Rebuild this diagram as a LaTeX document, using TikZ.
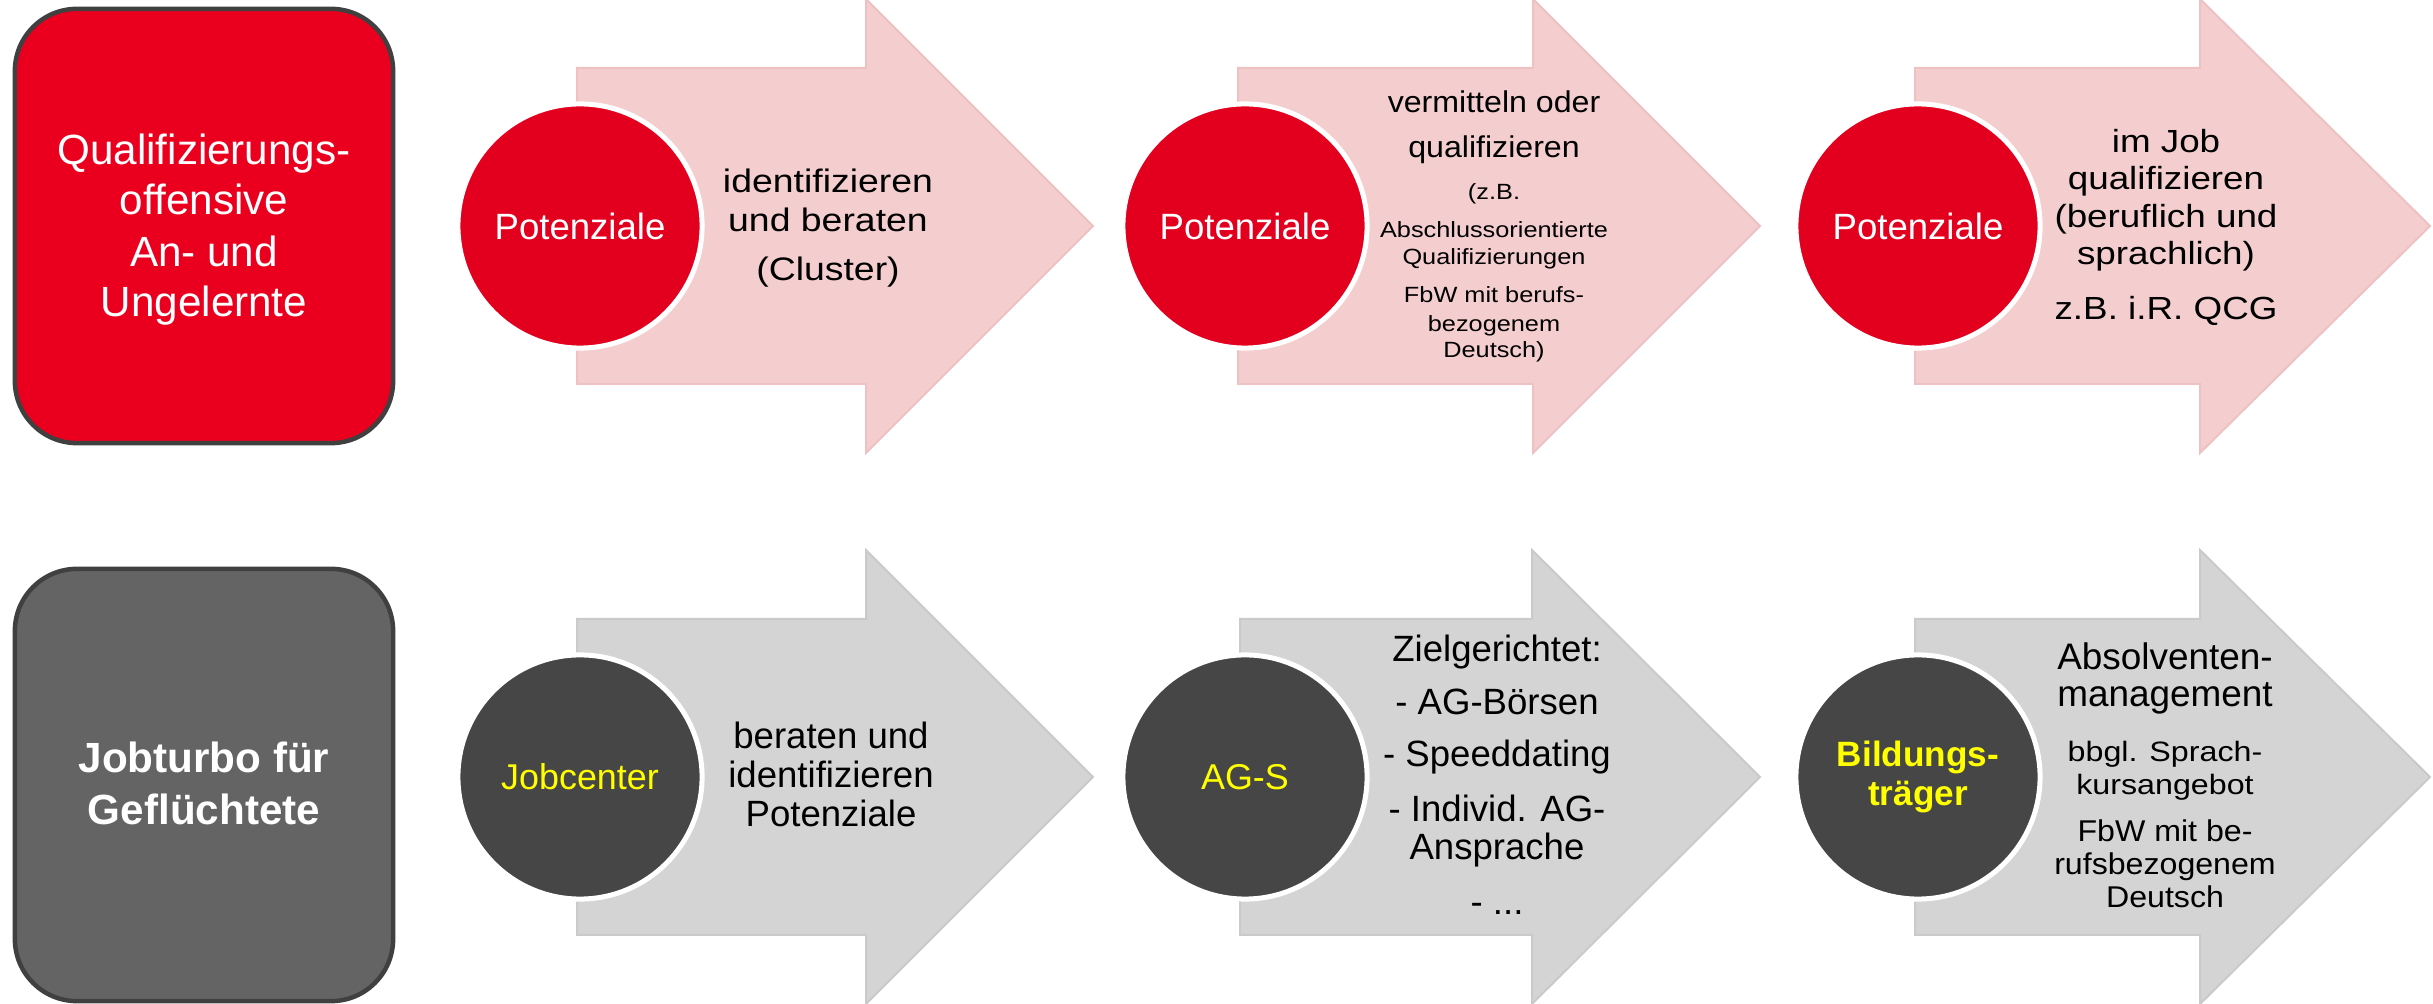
\documentclass[tikz,border=0pt]{standalone}
\usepackage{fontspec}
\setmainfont{Liberation Sans}
\newfontfamily\fN{Liberation Sans}
\newfontfamily\fM[FakeStretch=1.07]{Liberation Sans}
\newfontfamily\fW[FakeStretch=1.15]{Liberation Sans}
\newcommand\pxsize[2]{\fontsize{#1}{#2}\selectfont}
\definecolor{boxred}{RGB}{234,0,30}
\definecolor{circred}{RGB}{226,0,30}
\definecolor{pinkarrow}{RGB}{244,206,207}
\definecolor{pinkedge}{RGB}{238,193,195}
\definecolor{grayarrow}{RGB}{212,212,212}
\definecolor{grayedge}{RGB}{202,202,202}
\definecolor{boxgray}{RGB}{100,100,100}
\definecolor{boxedge}{RGB}{64,64,64}
\definecolor{circgray}{RGB}{70,70,70}
\definecolor{ylw}{RGB}{255,255,0}
\newcommand\flowarrow[5]{\path[#5] (#1,#4-158) -- (#2,#4-158) -- (#2,#4-227) -- (#3,#4) -- (#2,#4+227) -- (#2,#4+158) -- (#1,#4+158) -- cycle;}
\begin{document}
\begin{tikzpicture}[x=0.01cm,y=-0.01cm,
  leftbox/.style={rectangle, rounded corners=0.62cm, draw=boxedge, line width=0.045cm, minimum width=3.78cm, inner sep=0},
  pinkar/.style={fill=pinkarrow, draw=pinkedge, line width=0.02cm},
  grayar/.style={fill=grayarrow, draw=grayedge, line width=0.02cm},
  disc/.style={circle, minimum size=2.44cm, inner sep=0, draw=white, line width=0.05cm, align=center},
  lbl/.style={anchor=base, inner sep=0}]
\useasboundingbox (0,0) rectangle (2433,1004);
% left boxes
\node[leftbox, fill=boxred, minimum height=4.34cm] (qbox) at (204,226) {};
\node[leftbox, fill=boxgray, minimum height=4.32cm] (jbox) at (204,785) {};
\foreach \n/\yy/\t in {1/165/Qualifizierungs-, 2/215/offensive, 3/267/An- und, 4/317/Ungelernte}
  \node[lbl, font=\fN\pxsize{12pt}{14pt}, text=white] (qt\n) at (204,\yy) {\t};
\foreach \n/\yy/\t in {1/773/Jobturbo für, 2/825/Geflüchtete}
  \node[lbl, font=\fN\bfseries\pxsize{12pt}{14pt}, text=white] (jt\n) at (204,\yy) {\t};
% arrows
\flowarrow{577}{866}{1093}{226}{pinkar}
\flowarrow{1238}{1533}{1760}{226}{pinkar}
\flowarrow{1915}{2200}{2430}{226}{pinkar}
\flowarrow{577}{866}{1093}{777}{grayar}
\flowarrow{1240}{1532}{1760}{777}{grayar}
\flowarrow{1915}{2200}{2430}{777}{grayar}
% circles
\foreach \n/\xx in {1/580, 2/1245, 3/1918}
  \node[disc, fill=circred, text=white, font=\fN\pxsize{10.4pt}{12pt}] (pc\n) at (\xx,226) {Potenziale};
\node[disc, fill=circgray, text=ylw, font=\fN\pxsize{10.2pt}{12pt}] (jc) at (580,777) {Jobcenter};
\node[disc, fill=circgray, text=ylw, font=\fN\pxsize{10.2pt}{12pt}] (ag) at (1245,777) {AG-S};
\node[disc, fill=circgray, text=ylw, font=\fN\bfseries\pxsize{10pt}{11.1pt}] (bt) at (1918,777) {Bildungs-\\träger};
% top arrow texts
\foreach \n/\yy/\t in {1/193/identifizieren, 2/232/und beraten, 3/281/{(Cluster)}}
  \node[lbl, font=\fW\pxsize{9.25pt}{11pt}] (ta\n) at (828,\yy) {\t};
\foreach \n/\yy/\t in {1/113/vermitteln oder, 2/158/qualifizieren}
  \node[lbl, font=\fM\pxsize{8.54pt}{10pt}] (tb\n) at (1494,\yy) {\t};
\foreach \n/\yy/\t in {3/200/{(z.B.}, 4/238/Abschlussorientierte, 5/265/Qualifizierungen, 6/303/FbW mit berufs-, 7/332/bezogenem, 8/358/{Deutsch)}}
  \node[lbl, font=\fW\pxsize{6.26pt}{7.5pt}] (tb\n) at (1494,\yy) {\t};
\foreach \n/\yy/\t in {1/153/im Job, 2/190/qualifizieren, 3/228/{(beruflich und}, 4/265/{sprachlich)}, 5/320/{z.B. i.R. QCG}}
  \node[lbl, font=\fW\pxsize{9.1pt}{11pt}] (tc\n) at (2166,\yy) {\t};
% bottom arrow texts
\foreach \n/\yy/\t in {1/749/beraten und, 2/788/identifizieren, 3/827/Potenziale}
  \node[lbl, font=\fN\pxsize{10.4pt}{12pt}] (ba\n) at (831,\yy) {\t};
\foreach \n/\yy/\t in {1/662/{Zielgerichtet:}, 2/715/{- AG-Börsen}, 3/767/{- Speeddating}, 4/822/{- Individ. AG-}, 5/860/{Ansprache}}
  \node[lbl, font=\fN\pxsize{10.4pt}{12pt}] (bb\n) at (1497,\yy) {\t};
\node[lbl, font=\fN\pxsize{10.4pt}{12pt}] (bb6) at (1497,915) {- ...};
\foreach \n/\yy/\t in {1/670/Absolventen-, 2/707/management}
  \node[lbl, font=\fN\pxsize{10.5pt}{12pt}] (bc\n) at (2165,\yy) {\t};
\foreach \n/\yy/\t in {3/762/{bbgl. Sprach-}, 4/795/kursangebot}
  \node[lbl, font=\fW\pxsize{7.97pt}{9.5pt}] (bc\n) at (2165,\yy) {\t};
\foreach \n/\yy/\t in {5/842/FbW mit be-, 6/875/rufsbezogenem, 7/908/Deutsch}
  \node[lbl, font=\fM\pxsize{8.54pt}{10pt}] (bc\n) at (2165,\yy) {\t};
\end{tikzpicture}
\end{document}
